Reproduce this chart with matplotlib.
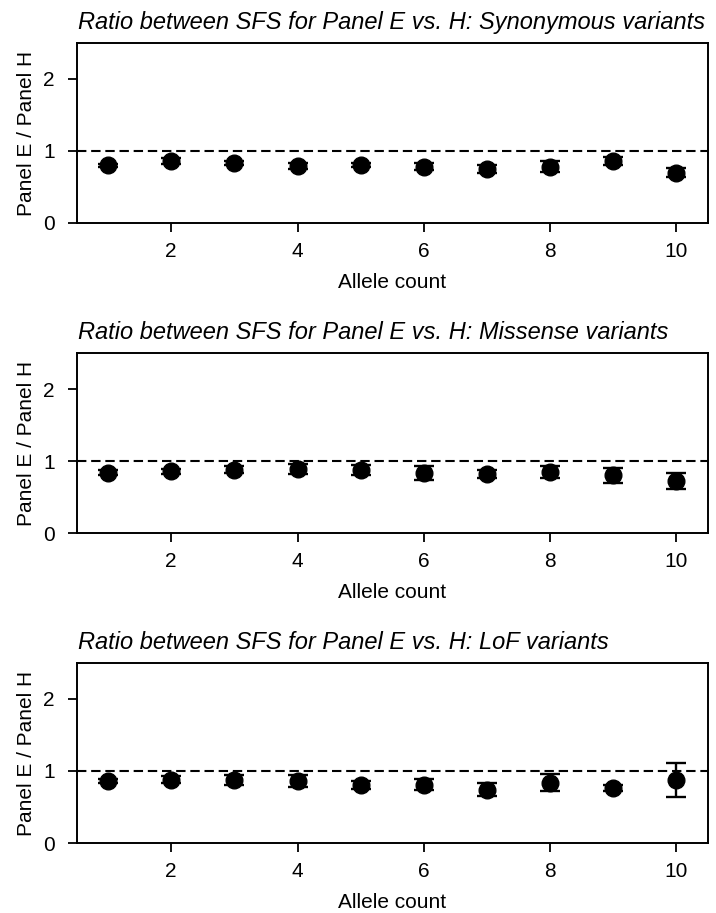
import matplotlib
matplotlib.use("Agg")
import matplotlib.pyplot as plt
import numpy as np

plt.rcParams['font.family'] = ['Liberation Sans', 'DejaVu Sans']

allele_count = [1, 2, 3, 4, 5, 6, 7, 8, 9, 10]

titles = [
    "Ratio between SFS for Panel E vs. H: Synonymous variants",
    "Ratio between SFS for Panel E vs. H: Missense variants",
    "Ratio between SFS for Panel E vs. H: LoF variants",
]

syn_ratio = [0.80, 0.86, 0.83, 0.79, 0.81, 0.78, 0.75, 0.78, 0.86, 0.70]
syn_err = [0.02, 0.037, 0.03, 0.045, 0.03, 0.05, 0.05, 0.075, 0.05, 0.065]

mis_ratio = [0.84, 0.86, 0.88, 0.89, 0.875, 0.83, 0.815, 0.85, 0.80, 0.72]
mis_err = [0.03, 0.035, 0.05, 0.07, 0.075, 0.10, 0.055, 0.08, 0.10, 0.11]

lof_ratio = [0.86, 0.88, 0.875, 0.86, 0.80, 0.81, 0.74, 0.84, 0.76, 0.875]
lof_err = [0.03, 0.05, 0.07, 0.085, 0.055, 0.08, 0.09, 0.115, 0.04, 0.23]

ratios = [syn_ratio, mis_ratio, lof_ratio]
errors = [syn_err, mis_err, lof_err]

W, H = 716, 913
fig = plt.figure(figsize=(W / 100, H / 100), dpi=100)

left, right = 76.5, 708
tops = [43, 353, 663]
height = 180

for i in range(3):
    ax = fig.add_axes([left / W, 1 - (tops[i] + height) / H,
                       (right - left) / W, height / H])
    ax.axhline(1.0, color='black', linewidth=1.5, linestyle=(0, (4.5, 2.3)), zorder=1)
    ax.errorbar(allele_count, ratios[i], yerr=errors[i], fmt='o',
                color='black', markersize=12, elinewidth=1.7,
                capsize=7.5, capthick=1.7, zorder=3)
    ax.set_xlim(0.5, 10.5)
    ax.set_ylim(0, 2.5)
    ax.set_xticks([2, 4, 6, 8, 10])
    ax.set_yticks([0, 1, 2])
    ax.tick_params(labelsize=15, width=1.3, length=6.5)
    ax.tick_params(axis='x', pad=7.5)
    ax.tick_params(axis='y', pad=9)
    for s in ax.spines.values():
        s.set_linewidth(1.4)
    ax.set_xlabel("Allele count", fontsize=15, labelpad=8)
    ax.set_ylabel("Panel E / Panel H", fontsize=15, labelpad=5)
    ax.set_title(titles[i], fontsize=17, style='italic', loc='left', x=0.002, pad=10)

fig.savefig("out.png", dpi=100)
